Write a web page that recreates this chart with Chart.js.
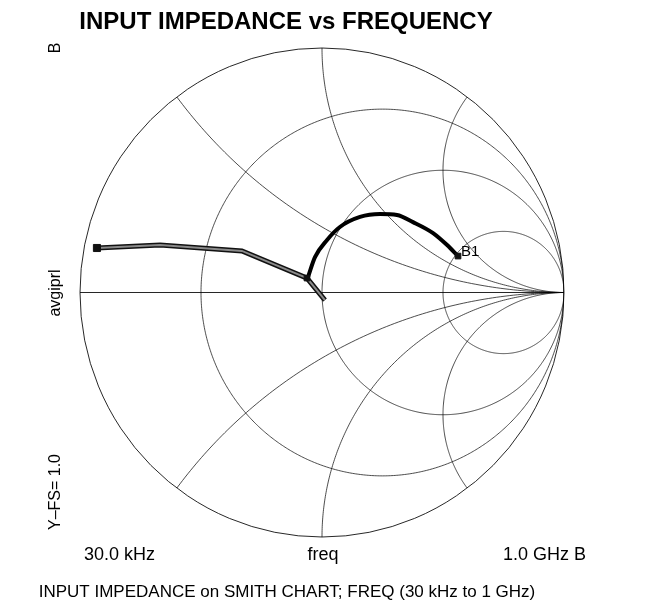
<!DOCTYPE html>
<html>
<head>
<meta charset="utf-8">
<script src="https://cdn.jsdelivr.net/npm/chart.js@4.4.0/dist/chart.umd.min.js"></script>
<style>
  html, body { margin: 0; padding: 0; background: #fff; }
  canvas { display: block; }
</style>
</head>
<body>
<canvas id="smith" width="655" height="611"></canvas>
<script>
const lowRe = [-0.930, -0.669, -0.331, -0.062, 0.012];
const lowIm = [0.182, 0.194, 0.170, 0.059, -0.031];

const arcRe = [-0.058, -0.029, 0.021, 0.074, 0.157, 0.240, 0.310, 0.376, 0.459, 0.517, 0.562];
const arcIm = [0.063, 0.145, 0.215, 0.268, 0.309, 0.321, 0.317, 0.288, 0.243, 0.194, 0.149];

const markRe = [-0.930, -0.062, 0.562];
const markIm = [0.182, 0.059, 0.149];
const markSize = [5, 4, 4];

// smith chart grid
const rCircles = [1 / 3, 1, 3];
const xArcs = [0.5, 1, 2, -0.5, -1, -2];

const toPts = (re, im) => re.map((v, i) => ({ x: v, y: im[i] }));

const smithGrid = {
  id: "smithGrid",
  beforeDatasetsDraw(chart) {
    const { ctx } = chart;
    const xs = chart.scales.x;
    const ys = chart.scales.y;
    const px = (v) => xs.getPixelForValue(v);
    const py = (v) => ys.getPixelForValue(v);
    const cx = px(0), cy = py(0);
    const rx = px(1) - cx, ry = cy - py(1);

    const circle = (gx, gy, rad) => {
      ctx.beginPath();
      for (let i = 0; i <= 720; i++) {
        const t = (i / 720) * Math.PI * 2;
        const x = px(gx + rad * Math.cos(t));
        const y = py(gy + rad * Math.sin(t));
        if (i === 0) ctx.moveTo(x, y);
        else ctx.lineTo(x, y);
      }
      ctx.stroke();
    };

    ctx.save();
    ctx.beginPath();
    ctx.ellipse(cx, cy, rx, ry, 0, 0, Math.PI * 2);
    ctx.clip();
    ctx.strokeStyle = "#111";
    ctx.lineWidth = 0.75;
    rCircles.forEach((r) => circle(r / (1 + r), 0, 1 / (1 + r)));
    xArcs.forEach((x) => circle(1, 1 / x, 1 / Math.abs(x)));
    ctx.restore();

    ctx.save();
    ctx.strokeStyle = "#000";
    ctx.lineWidth = 0.85;
    ctx.beginPath();
    ctx.ellipse(cx, cy, rx, ry, 0, 0, Math.PI * 2);
    ctx.stroke();
    ctx.beginPath();
    ctx.moveTo(px(-1), cy);
    ctx.lineTo(px(1), cy);
    ctx.stroke();
    ctx.restore();
  },
};

const labels = {
  id: "labels",
  afterDraw(chart) {
    const { ctx } = chart;
    const xs = chart.scales.x;
    const ys = chart.scales.y;
    ctx.save();
    ctx.fillStyle = "#000";
    ctx.textBaseline = "middle";

    ctx.font = "bold 24px 'Liberation Sans', Arial, sans-serif";
    ctx.textAlign = "center";
    ctx.fillText("INPUT IMPEDANCE vs FREQUENCY", 286, 22);

    ctx.font = "18px 'Liberation Sans', Arial, sans-serif";
    ctx.textAlign = "left";
    ctx.fillText("30.0 kHz", 84, 555);
    ctx.textAlign = "center";
    ctx.fillText("freq", 323, 555);
    ctx.textAlign = "right";
    ctx.fillText("1.0 GHz B", 586, 555);

    ctx.font = "17px 'Liberation Sans', Arial, sans-serif";
    ctx.textAlign = "center";
    ctx.fillText("INPUT IMPEDANCE on SMITH CHART; FREQ (30 kHz to 1 GHz)", 287, 592);

    // B1 marker label
    const bx = xs.getPixelForValue(markRe[2]);
    const by = ys.getPixelForValue(markIm[2]);
    ctx.font = "15px 'Liberation Sans', Arial, sans-serif";
    ctx.textAlign = "left";
    ctx.fillText("B1", bx + 3, by - 4);

    // rotated left labels
    ctx.font = "16px 'Liberation Sans', Arial, sans-serif";
    ctx.textAlign = "center";
    const vert = (txt, x, y) => {
      ctx.save();
      ctx.translate(x, y);
      ctx.rotate(-Math.PI / 2);
      ctx.fillText(txt, 0, 0);
      ctx.restore();
    };
    vert("B", 56, 48);
    vert("avgiprl", 56, 293);
    vert("Y\u2013FS= 1.0", 56, 492);
    ctx.restore();
  },
};

new Chart(document.getElementById("smith"), {
  type: "scatter",
  data: {
    datasets: [
      {
        label: "markers",
        data: toPts(markRe, markIm),
        showLine: false,
        pointStyle: "rect",
        pointRadius: markSize,
        backgroundColor: "#111",
        borderColor: "#111",
        order: 0,
      },
      {
        label: "arc",
        data: toPts(arcRe, arcIm),
        showLine: true,
        borderColor: "#000",
        borderWidth: 4,
        pointRadius: 0,
        cubicInterpolationMode: "monotone",
        order: 1,
      },
      {
        label: "low inner",
        data: toPts(lowRe, lowIm),
        showLine: true,
        borderColor: "#8a8a8a",
        borderWidth: 2,
        pointRadius: 0,
        order: 2,
      },
      {
        label: "low outer",
        data: toPts(lowRe, lowIm),
        showLine: true,
        borderColor: "#111",
        borderWidth: 5,
        pointRadius: 0,
        order: 3,
      },
    ],
  },
  options: {
    responsive: false,
    animation: false,
    layout: { padding: { left: 80, right: 91, top: 48, bottom: 74 } },
    scales: {
      x: { type: "linear", min: -1, max: 1, display: false },
      y: { type: "linear", min: -1, max: 1, display: false },
    },
    plugins: {
      legend: { display: false },
      tooltip: { enabled: false },
    },
  },
  plugins: [smithGrid, labels],
});
</script>
</body>
</html>
